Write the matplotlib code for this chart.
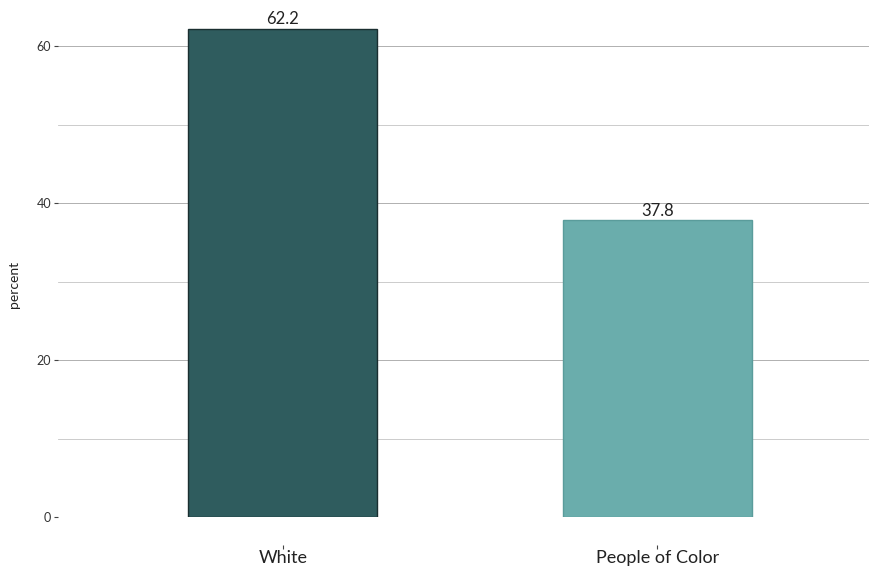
import matplotlib.pyplot as plt
from matplotlib.ticker import MultipleLocator

# share of respondents by group
groups = ["White", "People of Color"]
percent = [62.2, 37.8]
bar_colors = ["#2f5c5e", "#6aadac"]
edge_colors = ["#1a2e30", "#5a9c9b"]

plt.rcParams['font.family'] = ['Lato', 'DejaVu Sans']

fig = plt.figure(figsize=(8.69, 5.69), dpi=100)
ax = fig.add_axes([58 / 869, 1 - 517 / 569, 1 - 58 / 869, 517 / 569])

x = list(range(len(groups)))
ax.bar(x, percent, width=0.505, color=bar_colors, edgecolor=edge_colors,
       linewidth=1.0, zorder=3)
for xi, v in zip(x, percent):
    ax.text(xi, v + 0.2, f"{v:.1f}", ha="center", va="bottom",
            fontsize=12, color="#222222", zorder=4)

ax.set_xlim(-0.6, 1.565)
ax.set_ylim(0, 65.86)

ax.yaxis.set_major_locator(MultipleLocator(20))
ax.yaxis.set_minor_locator(MultipleLocator(10))
ax.grid(which="major", axis="y", color="#b0b0b0", linewidth=0.7, zorder=0)
ax.grid(which="minor", axis="y", color="#c4c4c4", linewidth=0.6, zorder=0)
ax.tick_params(axis="y", which="major", length=3, width=0.8, color="#444444",
               labelsize=9, labelcolor="#333333", pad=2)
ax.tick_params(axis="y", which="minor", length=0)

ax.set_xticks(x)
ax.set_xticklabels(groups)
ax.tick_params(axis="x", length=3, width=0.8, color="#444444",
               labelsize=13, labelcolor="#222222", pad=1)

for side in ["top", "right", "left"]:
    ax.spines[side].set_visible(False)
ax.spines["bottom"].set_position(("outward", 20))
ax.spines["bottom"].set_visible(False)

ax.set_ylabel("percent", fontsize=10, color="#222222")
ax.yaxis.set_label_coords(-0.047, 0.45)

fig.savefig("out.png", dpi=100)
